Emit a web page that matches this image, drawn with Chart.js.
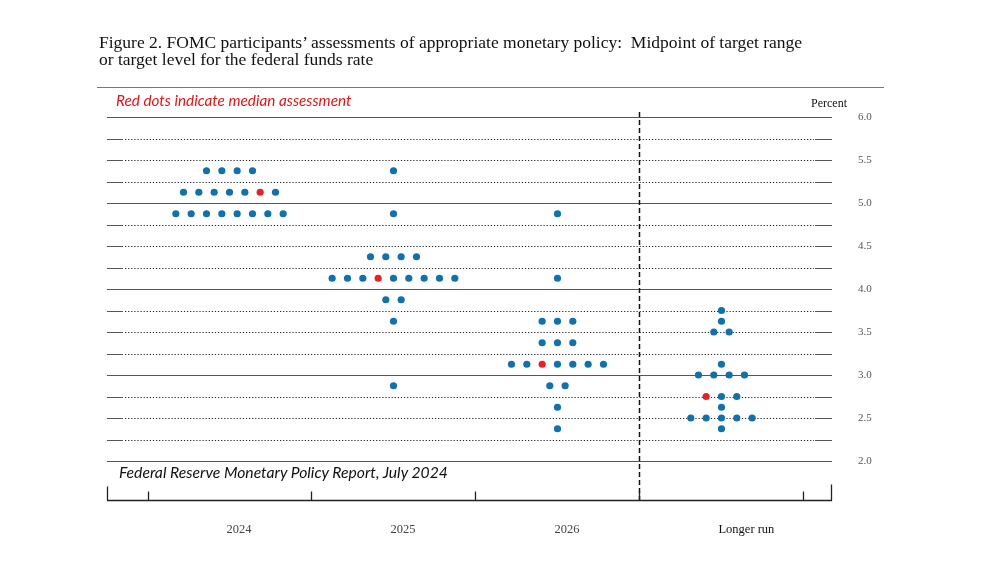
<!DOCTYPE html>
<html lang="en">
<head>
    <meta charset="UTF-8">
    <title>FOMC participants' assessments of appropriate monetary policy</title>
    <style>
        body { margin: 0; background: #fff; }
        #wrap { position: relative; width: 1000px; height: 562px; }
        #wrap canvas { position: absolute; left: 0; top: 0; }
        .txt { position: absolute; white-space: nowrap; }
        #title { left: 99px; top: 34px; font: 17.5px/17px "Liberation Serif", serif; color: #111; }
        #note { left: 116px; top: 91px; font: italic 15.3px/18px Lato, sans-serif; color: #d7191c; }
        #percent { left: 811px; top: 96px; font: 12px/14px "Liberation Serif", serif; color: #111; }
        #source { left: 119px; top: 463px; font: italic 15.7px/18px Lato, sans-serif; color: #111; }
        #rule { position: absolute; left: 97px; top: 87px; width: 787px; height: 0; border-top: 1.5px solid #777; }
    </style>
</head>
<body>
<div id="wrap">
    <canvas id="dotChart" width="1000" height="562"></canvas>
    <div class="txt" id="title">Figure 2. FOMC participants’ assessments of appropriate monetary policy:&nbsp; Midpoint of target range<br>or target level for the federal funds rate</div>
    <div id="rule"></div>
    <div class="txt" id="note">Red dots indicate median assessment</div>
    <div class="txt" id="percent">Percent</div>
    <div class="txt" id="source">Federal Reserve Monetary Policy Report, July 2024</div>
</div>
<script src="https://cdn.jsdelivr.net/npm/chart.js"></script>
<script>
// horizon labels
const horizons = ['2024', '2025', '2026', 'Longer run'];

// rate levels (percent) and number of participants at each level, per horizon
const rates2024 = [5.375, 5.125, 4.875];
const counts2024 = [4, 7, 8];
const rates2025 = [5.375, 4.875, 4.375, 4.125, 3.875, 3.625, 2.875];
const counts2025 = [1, 1, 4, 9, 2, 1, 1];
const rates2026 = [4.875, 4.125, 3.625, 3.375, 3.125, 2.875, 2.625, 2.375];
const counts2026 = [1, 1, 3, 3, 7, 2, 1, 1];
const ratesLonger = [3.75, 3.625, 3.5, 3.125, 3.0, 2.75, 2.625, 2.5, 2.375];
const countsLonger = [1, 1, 2, 1, 4, 3, 1, 5, 1];

// median assessment per horizon, and which dot in that row is the red one
const medians = [5.125, 4.125, 3.125, 2.75];
const medianSlot = [5, 3, 2, 0];

// right-hand axis
const yTickLabels = ['2.0', '2.5', '3.0', '3.5', '4.0', '4.5', '5.0', '5.5', '6.0'];

const allRates = [rates2024, rates2025, rates2026, ratesLonger];
const allCounts = [counts2024, counts2025, counts2026, countsLonger];

const BLUE = '#1270aa';
const RED = '#e8202a';
const DOT_STEP = 0.0935; // horizontal gap between dots, in column widths

const bluePts = [];
const redPts = [];
allRates.forEach((rates, col) => {
    rates.forEach((r, j) => {
        const n = allCounts[col][j];
        for (let k = 0; k < n; k++) {
            const pt = { x: col + (k - (n - 1) / 2) * DOT_STEP, y: r };
            if (r === medians[col] && k === medianSlot[col]) redPts.push(pt);
            else bluePts.push(pt);
        }
    });
});

const AXIS_GAP = 39; // bottom axis sits below the plot

const framePlugin = {
    id: 'frame',
    beforeDatasetsDraw(chart) {
        const { ctx, chartArea: a, scales: { x, y } } = chart;
        ctx.save();
        // horizontal rules
        y.ticks.forEach(t => {
            const py = Math.round(y.getPixelForValue(t.value)) + 0.5;
            ctx.setLineDash([]);
            if (Math.abs(t.value - Math.round(t.value)) < 1e-6) {
                ctx.strokeStyle = '#555';
                ctx.lineWidth = 1.2;
                ctx.beginPath(); ctx.moveTo(a.left, py); ctx.lineTo(a.right, py); ctx.stroke();
            } else {
                ctx.strokeStyle = '#555';
                ctx.lineWidth = 1.1;
                ctx.beginPath();
                ctx.moveTo(a.left, py); ctx.lineTo(a.left + 16, py);
                ctx.moveTo(a.right - 17, py); ctx.lineTo(a.right, py);
                ctx.stroke();
                ctx.strokeStyle = '#222';
                ctx.lineWidth = 1.1;
                ctx.setLineDash([1.2, 1.9]);
                ctx.beginPath(); ctx.moveTo(a.left + 18, py); ctx.lineTo(a.right - 18, py); ctx.stroke();
            }
        });

        const axisY = a.bottom + AXIS_GAP + 0.5;
        // divider before "Longer run"
        const dx = Math.round(x.getPixelForValue(2.5)) + 0.5;
        ctx.setLineDash([5, 3]);
        ctx.strokeStyle = '#111';
        ctx.lineWidth = 1.5;
        ctx.beginPath(); ctx.moveTo(dx, a.top - 5); ctx.lineTo(dx, axisY); ctx.stroke();

        // bottom axis with ticks
        ctx.setLineDash([]);
        ctx.strokeStyle = '#222';
        ctx.lineWidth = 1.3;
        ctx.beginPath();
        ctx.moveTo(a.left, axisY); ctx.lineTo(a.right, axisY);
        ctx.moveTo(a.left + 0.5, axisY); ctx.lineTo(a.left + 0.5, axisY - 14);
        ctx.moveTo(a.right - 0.5, axisY); ctx.lineTo(a.right - 0.5, axisY - 16);
        for (let b = -0.5; b <= horizons.length - 0.5; b += 1) {
            const bx = Math.round(x.getPixelForValue(b)) + 0.5;
            ctx.moveTo(bx, axisY); ctx.lineTo(bx, axisY - 9);
        }
        ctx.stroke();

        // horizon labels
        ctx.font = '12.5px "Liberation Serif", serif';
        ctx.textAlign = 'left';
        ctx.textBaseline = 'alphabetic';
        horizons.forEach((h, i) => {
            ctx.fillStyle = i === horizons.length - 1 ? '#111' : '#444';
            ctx.fillText(h, x.getPixelForValue(i) - 3, axisY + 32);
        });
        ctx.restore();
    }
};

const ctx = document.getElementById('dotChart').getContext('2d');
new Chart(ctx, {
    type: 'scatter',
    data: {
        datasets: [
            { label: 'Participant', data: bluePts, backgroundColor: BLUE, borderWidth: 0, pointRadius: 3.6 },
            { label: 'Median', data: redPts, backgroundColor: RED, borderWidth: 0, pointRadius: 3.6 }
        ]
    },
    options: {
        responsive: false,
        animation: false,
        layout: { padding: { left: 107, top: 117, right: 108, bottom: 101 } },
        plugins: { legend: { display: false }, tooltip: { enabled: false } },
        scales: {
            x: { type: 'linear', display: false, min: -0.747, max: 3.674 },
            y: {
                type: 'linear',
                position: 'right',
                min: 2,
                max: 6,
                grid: { display: false, drawTicks: false },
                border: { display: false },
                ticks: {
                    stepSize: 0.25,
                    autoSkip: false,
                    padding: 26,
                    color: '#555',
                    font: { family: '"Liberation Serif", serif', size: 11 },
                    callback: v => {
                        const s = v.toFixed(1);
                        return Math.abs(v * 2 - Math.round(v * 2)) < 1e-6 && yTickLabels.includes(s) ? s : '';
                    }
                },
                afterFit: s => { s.width = 60; }
            }
        }
    },
    plugins: [framePlugin]
});
</script>
</body>
</html>
